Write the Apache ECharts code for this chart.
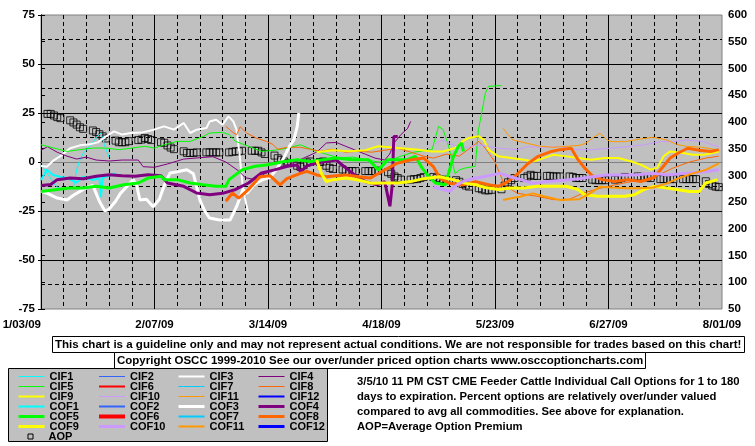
<!DOCTYPE html>
<html>
<head>
<meta charset="utf-8">
<script src="https://cdn.jsdelivr.net/npm/echarts/dist/echarts.min.js"></script>
<style>
  html, body { margin: 0; padding: 0; background: #fff; }
  #chart { width: 755px; height: 446px; }
</style>
</head>
<body>
<div id="chart"></div>
<script>
  // x values are days since 1/03/09, left axis is percent over/under, right axis is AOP
  var X_LABELS = ['1/03/09', '2/07/09', '3/14/09', '4/18/09', '5/23/09', '6/27/09', '8/01/09'];

  var CIF1 = [[0, -1.5], [2, -6], [4.3, -11.7], [6, -14], [8, -13.5], [10, -13], [11, -4], [12, 1], [13, 4.4], [15, 8], [17.4, 13], [18.5, 14.8], [19.5, 9], [21, 2.5]];
  var CIF2 = [];
  var CIF3 = [[0, -2], [1.8, -2.4], [4, 1], [6, 3], [9, 7], [12, 8.5], [15, 9], [17.5, 10], [20, 13], [22.5, 15.6], [25, 14], [27.7, 14.8], [31, 15], [34.8, 16.5], [37.9, 18.2], [41, 16.5], [44, 19.9], [46, 14.8], [48, 16.5], [51, 17.3], [52, 20.7], [54, 21.6], [56, 19], [57.8, 23.3], [59.3, 20.7], [60.3, 16.5], [61.3, 2.9], [62.3, -14], [63.9, -26]];
  var CIF4 = [[0, 6], [2, 7.8], [5, 5], [8, 3], [11, 1.5], [14, 2.5], [17, 1], [21, 0.5], [25, 1], [30, 1], [31.5, -2.4], [35, -2.7], [39, -1], [44, 1.5], [49, 2.2], [53, 2.7], [57, 0], [61, -4.6], [63, -8], [66, -9], [69, -6], [73, -3], [77, -1], [81, 2], [85, 5], [88, 9.7], [91, 10], [94, 8], [97, 6], [100, 4], [103, 2], [106, 1], [107.5, 4], [109, 10], [111, 14], [113, 17], [114, 20.7]];
  var CIF5 = [[0, 8.8], [4, 7.1], [8, 5.4], [12, 6.3], [16, 7.1], [20, 7.1], [24, 6.3], [28, 7.1], [32, 8], [35, 7.1], [38, 8.8], [42, 10.5], [46, 10.5], [50, 13], [52, 14.8], [56, 15.1], [58, 14], [60, 10.5], [64, 8], [68, 5.4], [72, 6], [76, 7.1], [80, 8.8], [84, 6], [88, 4], [92, 2], [96, 2.5], [100, 1.2], [104, 0], [108, 1], [111, 3], [115, 5], [119, 6], [120.6, 6.3], [122.6, 18.2], [124, 16.5], [125.7, 8], [127.7, -6], [129, -4], [131, -3], [133.9, -2.2], [134.9, 16.5], [135.9, 25], [137, 35], [138, 38.6], [142, 39]];
  var CIF6 = [];
  var CIF7 = [];
  var CIF8 = [[57, 18.2], [58.5, 16], [60.3, 13.8], [61.4, 18], [63.4, 14.8], [66.4, 12.2], [69.5, 10.5], [71.5, 9], [73, 6.5], [76, 7.5], [80, 7.5], [83, 6.5], [86, 5.5], [90, 6.5], [94, 5], [98, 5.5], [102, 5], [106, 6], [110, 7], [114, 5], [118, 3], [121, 2], [125, 4], [129, 3], [133, 8], [135, 10.5], [137, 7], [140, 0], [143, -12], [147, -16], [153, -17.5], [158, -19.2], [163, -19], [167, -16], [171, -14], [176, -12], [182, -10], [186, -9], [190, -7], [195, -3], [200, 0], [205, 2], [209, 3]];
  var CIF9 = [[85, 5], [90, 6], [95, 5.5], [100, 6], [104, 8], [110, 7.1], [116.5, 6.3], [120.5, 5.4], [124, 5.4], [127.7, 7.1], [130, 10.5], [131.8, 12.2], [135, 13.1], [136.5, 11.4], [138, 6.3], [141, 2.9], [145, 2], [149, 1.2], [152, 0.3], [155, 2], [158, 3.7], [161.5, 3], [165.6, 2], [169.7, 1.2], [173.8, 2], [178, 2], [182, 0.3], [185, -1.4], [188, -3.9], [190, -3], [192, 2.9], [194, 5.4], [198, 4.6], [201, 3.7], [204.5, 3.7], [207, 4.6], [209, 5.4]];
  var CIF10 = [[121.6, 9.5], [124, 11.2], [126, 9.5], [130, 7], [135, 8.8], [141, 7.1], [147, 6.3], [150, 7.8], [155, 7.5], [160, 7.8], [165.6, 6.3], [170, 6.3], [175.8, 7.1], [182, 8], [186, 8.8], [191, 10.4], [195, 10.4], [199, 11.2], [204, 10.5], [207, 8.7], [209, 8]];
  var CIF11 = [[142.5, 17.2], [144, 14], [145.6, 11.2], [150, 9.5], [154, 8], [158, 7.5], [162, 8], [166, 8.5], [168, 9.5], [170, 12.2], [172.4, 14.7], [174, 12], [175.5, 10.4], [180, 10.4], [184.7, 11.7], [188.8, 12.6], [193, 11.2], [196, 9], [199, 8], [204, 7.5], [209, 6]];
  var CIF12 = [];

  var COF1 = [[0, -9.2], [1.8, -4], [3.7, -6.6], [5.9, -7.5], [8, -8.2], [11, -10.5], [13, -7.5], [16, -9.2], [18, -8.2], [18.5, -18], [19, -8], [20, -7.5], [23, -5.8]];
  var COF2 = [];
  var COF3 = [[0, -15], [2, -16], [5, -18.4], [8, -19.4], [10, -17], [12, -15], [14, -13], [16, -12], [17, -16], [18, -20], [19.7, -25], [21, -24], [23, -20], [24.5, -16], [26, -13.4], [28.5, -9], [29.5, -12], [30.5, -19.4], [32.5, -19], [34.6, -22.8], [36.5, -19], [38, -12], [39.8, -5.6], [42, -5], [45, -4], [47, -6], [49, -19.4], [50.5, -25], [52, -28.6], [55, -29.6], [58.3, -29.6], [60.3, -22.8], [62.3, -14], [63.5, -16], [65, -13], [66.4, -10.7], [68.5, -9], [70.5, -8], [72.5, -4], [74.6, 1.2], [76.6, 8], [78, 11.4], [79, 18], [79.5, 25]];
  var COF4 = [[0, -12], [3, -11.5], [5, -9], [9, -8.2], [13, -8.5], [17, -7.3], [21, -6.5], [25, -7], [29, -7.3], [33, -6.5], [37, -7], [39, -10.7], [44, -12.4], [48, -15.8], [52, -16.7], [56, -16], [60, -14], [64, -10.7], [68, -5.6], [72, -4], [76, -2.2], [79, -1.5], [80, -5], [82, -2], [85, -0.5], [88, 0.3], [91, 1], [94, -3], [97, -7], [100, -10], [103.6, -11.7], [106, -10], [107.6, -22.6], [108.3, -12], [108.8, 13], [110, 13]];
  var COF5 = [[0, -15], [5, -14], [9, -13.3], [13, -13.3], [17, -12.4], [21, -13.3], [25.5, -11.6], [30, -10.7], [33, -8.2], [37, -7.3], [38, -9], [42, -9], [46, -10.7], [50, -11.6], [54, -12.4], [57, -12.4], [58, -9], [62, -4], [66, -2.2], [70, -1.4], [75, 0.3], [79, 1.2], [83, 0.3], [87, 1.2], [91, 2], [96, 1.2], [101, 1.2], [104, -4], [107, 1.2], [110, 1.2], [113, 1.2], [115.4, 2.9], [117.5, -3], [119.5, -7.3], [121.6, -10.7], [124.7, -11.6], [125.7, -5.6], [127.2, 2.9], [128.7, 8], [129.7, 9.7], [130.3, 5.4]];
  var COF6 = [];
  var COF7 = [];
  var COF8 = [[57, -20], [59, -15.8], [61, -18.4], [64, -14], [67.5, -7.5], [70.6, -7], [73.7, -11.7], [75.8, -8.5], [80, -5.8], [82, -4.8], [85, -6.6], [88, -7.5], [91, -7], [94.3, -6.6], [98, -7.5], [101.5, -8.2], [105, -5], [109.7, -0.7], [113.8, 1], [118, 2], [121, -2.4], [123, -8.2], [126, -10.9], [130, -11.7], [134, -10], [138.4, -11.7], [141, -12.4], [144, -10], [147, -6], [150, -1], [153.3, 2.9], [157.4, 5.4], [160, 6.3], [163.5, 7], [165.6, 1.2], [167.6, -3], [170, -7], [173, -9], [177, -10], [181, -9], [185, -10], [189, -8], [192, -2], [194, 2], [196.5, 4.6], [199.4, 7], [203, 6], [206.5, 5.4], [209, 6.3]];
  var COF9 = [[85, 1], [86.5, -6], [88, -10], [90, -9], [94, -8.2], [98, -9.2], [102, -10.9], [106, -10.7], [110, -10.7], [114, -10], [118, -8.5], [123, -7.5], [127, -9], [131, -10.9], [134, -11.6], [137, -13], [141, -14], [145, -13.3], [149, -13.3], [153, -12.4], [158, -12.4], [162, -12.4], [165.6, -14], [167.6, -16.7], [171.7, -17.5], [176, -17.5], [180, -17.5], [183, -16.7], [186, -14], [189, -12.4], [192, -13], [196, -14], [200, -15], [203, -15], [205, -10.7], [208.6, -9]];
  var COF10 = [[121, -12.6], [124, -14], [126, -15], [128, -12], [130, -10], [133, -8.5], [136.4, -7.5], [141.5, -5.8], [144.6, -7.5], [148, -9], [151.7, -10.9], [156, -10], [162, -9.2], [166, -8.5], [170, -7.5], [174.5, -6.6], [179, -6.6], [183, -6.6], [189, -5.8], [193, -6.6], [199, -5.8], [205, -5], [209, -4]];
  var COF11 = [[142.5, -19.4], [145, -18.5], [147.7, -17.7], [151.7, -16], [155, -17.5], [160, -19.4], [166, -19], [169.3, -16], [172.4, -12.6], [176, -13], [180.7, -13.4], [185, -13.4], [188.8, -13], [193, -10.9], [197, -8], [201, -5.8], [205, -4], [209, -0.7]];
  var COF12 = [];

  // average option premium, one row per week (Mon..Fri)
  var AOP_WEEKS = [
    [415, 415, 412, 409, 407], [403, 399, 395, 390, 387], [384, 381, 377, 373, 369],
    [365, 362, 362, 362, 364], [366, 367, 370, 368, 366], [362, 361, 356, 352, 349],
    [345, 342, 342, 342, 343], [343, 343, 343, 343, 343], [343, 344, 345, 345, 346],
    [346, 346, 346, 343, 340], [337, 332, 329, 326, 323], [318, 316, 319, 324, 326],
    [325, 326, 318, 314, 312], [311, 308, 308, 308, 308], [308, 308, 308, 308, 309],
    [306, 303, 298, 295, 292], [292, 293, 293, 295, 297], [297, 295, 292, 292, 291],
    [291, 288, 284, 281, 279], [276, 274, 272, 272, 273], [274, 281, 287, 291, 295],
    [295, 298, 301, 299, 299], [299, 299, 298, 298, 298], [298, 297, 295, 295, 295],
    [292, 291, 291, 291, 291], [292, 293, 295, 297, null], [298, 297, 297, 296, 295],
    [293, 293, 293, 293, 293], [293, 293, 293, 293, 293], [289, 284, 281, 279, 278]
  ];

  var DISCLAIMER = 'This chart is a guideline only and may not represent actual conditions. We are not responsible for trades based on this chart!';
  var COPYRIGHT = 'Copyright OSCC 1999-2010 See our over/under priced option charts www.osccoptioncharts.com';
  var NOTES = [
    '3/5/10 11 PM CST CME Feeder Cattle Individual Call Options for 1 to 180',
    'days to expiration. Percent options are relatively over/under valued',
    'compared to avg all commodities. See above for explanation.',
    'AOP=Average Option Premium'
  ];

  var FONT = '"Liberation Sans", Arial, sans-serif';

  // name, data, colour, width
  var LINES = [
    ['CIF1', CIF1, '#00FFFF', 1], ['CIF2', CIF2, '#3366FF', 1], ['CIF3', CIF3, '#FFFFFF', 2], ['CIF4', CIF4, '#800080', 1],
    ['CIF5', CIF5, '#00FF00', 1], ['CIF6', CIF6, '#FF0000', 2], ['CIF7', CIF7, '#00CCFF', 1], ['CIF8', CIF8, '#FF6600', 1],
    ['CIF9', CIF9, '#FFFF00', 2], ['CIF10', CIF10, '#CC99FF', 1], ['CIF11', CIF11, '#FF9900', 1], ['CIF12', CIF12, '#0000FF', 2],
    ['COF1', COF1, '#00FFFF', 2], ['COF2', COF2, '#3366FF', 2], ['COF3', COF3, '#FFFFFF', 3], ['COF4', COF4, '#800080', 3],
    ['COF5', COF5, '#00FF00', 3], ['COF6', COF6, '#FF0000', 4], ['COF7', COF7, '#00CCFF', 2], ['COF8', COF8, '#FF6600', 3],
    ['COF9', COF9, '#FFFF00', 3], ['COF10', COF10, '#CC99FF', 3], ['COF11', COF11, '#FF9900', 2], ['COF12', COF12, '#0000FF', 3]
  ];

  var aopData = [];
  AOP_WEEKS.forEach(function (wk, w) {
    wk.forEach(function (v, i) {
      if (v != null) aopData.push([w * 7 + 2 + i, v]);
    });
  });

  var series = LINES.map(function (l) {
    return {
      name: l[0], type: 'line', data: l[1], xAxisIndex: 0, yAxisIndex: 0,
      symbol: 'none', smooth: false, silent: true,
      lineStyle: { color: l[2], width: l[3] },
      itemStyle: { color: l[2] }
    };
  });
  series.push({
    name: 'AOP', type: 'scatter', data: aopData, xAxisIndex: 0, yAxisIndex: 1,
    symbol: 'rect', symbolSize: 7, silent: true,
    itemStyle: { color: 'rgba(0,0,0,0)', borderColor: '#000', borderWidth: 1 }
  });

  var legendText = { color: '#000', fontSize: 11, fontWeight: 'bold', fontFamily: FONT, lineHeight: 10 };
  var LEGEND_COLS = [
    ['CIF1', 'CIF5', 'CIF9', 'COF1', 'COF5', 'COF9'],
    ['CIF2', 'CIF6', 'CIF10', 'COF2', 'COF6', 'COF10'],
    ['CIF3', 'CIF7', 'CIF11', 'COF3', 'COF7', 'COF11'],
    ['CIF4', 'CIF8', 'CIF12', 'COF4', 'COF8', 'COF12']
  ];
  var legends = LEGEND_COLS.map(function (names, i) {
    return {
      orient: 'vertical', left: 17 + 80 * i, top: 371, padding: 0,
      itemWidth: 26, itemHeight: 10, itemGap: -1, selectedMode: false,
      data: names, itemStyle: { opacity: 0 }, lineStyle: { width: 'inherit' },
      textStyle: legendText
    };
  });
  legends.push({
    orient: 'vertical', left: 17, top: 431, padding: 0,
    itemWidth: 26, itemHeight: 10, itemGap: 0, selectedMode: false,
    data: [{ name: 'AOP', icon: 'path://M0,0M26,10M10.5,2.5h5v5h-5z',
      itemStyle: { color: 'rgba(0,0,0,0)', borderColor: '#000', borderWidth: 1, opacity: 1 } }],
    textStyle: legendText
  });

  function boldText(size, lineHeight) {
    return { color: '#000', fontSize: size, fontWeight: 'bold', fontFamily: FONT, lineHeight: lineHeight };
  }
  var solid = { color: '#000', width: 1 };
  var dashed = { color: '#000', width: 1, type: [4, 3] };
  var axisText = { color: '#000', fontSize: 11.5, fontWeight: 'bold', fontFamily: FONT };

  var option = {
    animation: false,
    backgroundColor: '#fff',
    textStyle: { fontFamily: FONT },
    title: [
      { text: DISCLAIMER, left: 52, top: 336, padding: [2, 3], backgroundColor: '#fff',
        borderColor: '#000', borderWidth: 1, textStyle: boldText(11.55, 13) },
      { text: COPYRIGHT, left: 114, top: 352, padding: [2, 3], backgroundColor: '#fff',
        borderColor: '#000', borderWidth: 1, textStyle: boldText(11.5, 13) },
      { text: NOTES.join('\n'), left: 357, top: 374, padding: 0, textStyle: boldText(11.25, 15) }
    ],
    legend: legends,
    graphic: [{
      type: 'rect', z: -1, silent: true,
      shape: { x: 8.5, y: 368.5, width: 319, height: 73 },
      style: { fill: '#C0C0C0', stroke: '#000', lineWidth: 1 }
    }],
    grid: {
      left: 41, right: 33, top: 15, bottom: 137, show: true,
      backgroundColor: '#C0C0C0', borderColor: '#808080', borderWidth: 1,
      outerBoundsMode: 'none'
    },
    xAxis: [
      { type: 'value', min: 0, max: 210, interval: 35, position: 'bottom',
        axisLine: { show: true, lineStyle: { color: '#808080' } },
        axisTick: { show: false },
        axisLabel: Object.assign({ margin: 10, alignMinLabel: 'right',
          formatter: function (v) { return X_LABELS[Math.round(v / 35)]; } }, axisText),
        splitLine: { show: true, showMinLine: false, showMaxLine: false, lineStyle: solid } },
      { type: 'value', min: 0, max: 210, interval: 7, position: 'top',
        axisLine: { show: false }, axisTick: { show: false }, axisLabel: { show: false },
        splitLine: { show: true, showMinLine: false, showMaxLine: false, lineStyle: dashed } }
    ],
    yAxis: [
      { type: 'value', min: -75, max: 75, interval: 25, position: 'left',
        axisLine: { show: true, lineStyle: { color: '#000' } },
        axisTick: { show: true, length: 3, lineStyle: { color: '#000' } },
        axisLabel: Object.assign({ margin: 6 }, axisText),
        splitLine: { show: true, showMinLine: false, showMaxLine: false, lineStyle: solid } },
      { type: 'value', min: 50, max: 600, interval: 50, position: 'right',
        axisLine: { show: true, lineStyle: { color: '#000' } },
        axisTick: { show: true, length: 4, lineStyle: { color: '#000' } },
        axisLabel: Object.assign({ margin: 6 }, axisText),
        splitLine: { show: false } },
      { type: 'value', min: -75, max: 75, interval: 12.5,
        axisLine: { show: false }, axisTick: { show: false }, axisLabel: { show: false },
        splitLine: { show: true, showMinLine: false, showMaxLine: false, lineStyle: dashed } }
    ],
    series: series
  };

  var chart = echarts.init(document.getElementById('chart'), null, { renderer: 'canvas' });
  chart.setOption(option);
</script>
</body>
</html>
